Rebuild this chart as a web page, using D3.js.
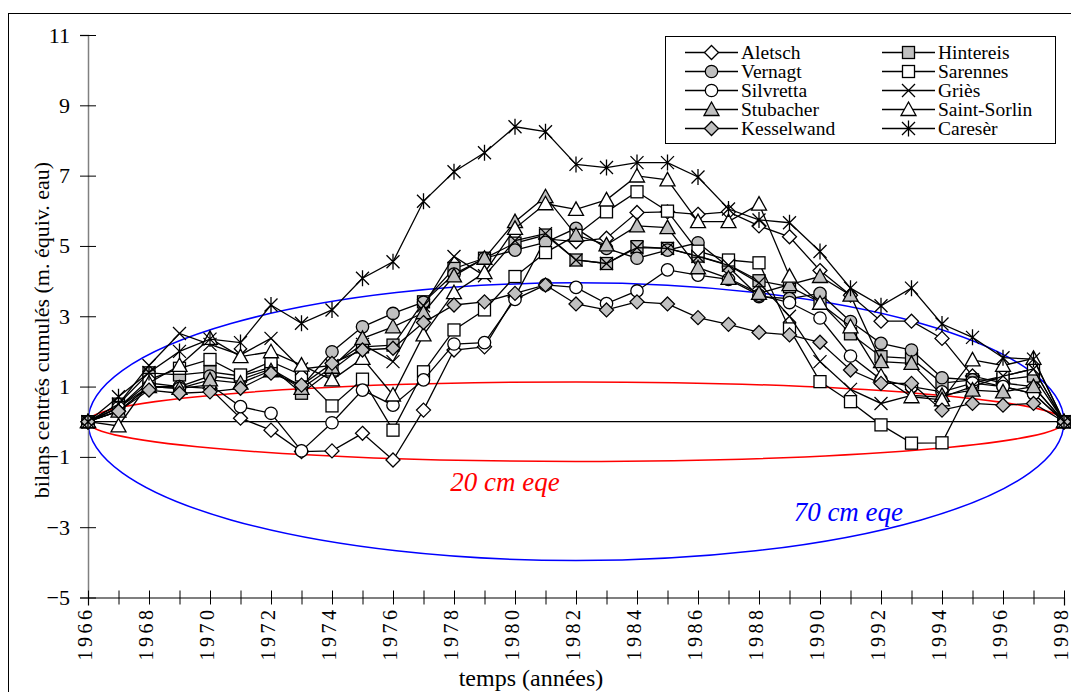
<!DOCTYPE html>
<html><head><meta charset="utf-8">
<script src="https://cdn.jsdelivr.net/npm/d3@7/dist/d3.min.js"></script>
<style>
html,body{margin:0;padding:0;background:#fff;}
svg{display:block;}
text{font-family:"Liberation Serif","Times New Roman",serif;}
</style></head>
<body>
<svg id="chart" width="1071" height="692"></svg>
<script>
const years = [1966,1967,1968,1969,1970,1971,1972,1973,1974,1975,1976,1977,1978,1979,1980,1981,1982,1983,1984,1985,1986,1987,1988,1989,1990,1991,1992,1993,1994,1995,1996,1997,1998];
const yTicks = [-5,-3,-1,1,3,5,7,9,11];
const xLabelYears = [1966,1968,1970,1972,1974,1976,1978,1980,1982,1984,1986,1988,1990,1992,1994,1996,1998];

const aletsch    = [0,0.3,1.0,1.0,0.95,0.1,-0.24,-0.85,-0.83,-0.33,-1.09,0.33,2.04,2.13,3.55,5.2,5.12,5.22,5.95,5.97,5.9,5.97,5.57,5.26,4.3,3.6,2.86,2.86,2.37,1.3,1.1,1.0,0];
const hintereis  = [0,0.5,1.39,1.33,1.42,1.3,1.55,0.81,1.47,2.13,2.18,3.41,4.36,4.65,5.08,5.31,4.6,4.5,4.98,4.93,4.71,4.46,4.01,3.84,3.4,2.5,1.85,1.8,1.1,1.19,1.2,1.3,0];
const vernagt    = [0,0.4,1.1,1.0,1.3,1.2,1.5,1.0,1.99,2.7,3.08,3.4,4.2,4.65,4.88,5.1,5.5,4.93,4.65,4.88,5.09,4.4,3.56,3.5,3.65,2.85,2.23,2.04,1.25,1.19,1.0,0.8,0];
const sarennes   = [0,0.4,1.2,1.52,1.77,1.33,1.71,1.33,0.45,1.21,-0.24,1.42,2.61,3.18,4.13,4.81,5.3,5.97,6.54,5.99,4.85,4.6,4.52,2.64,1.14,0.57,-0.09,-0.61,-0.6,1.1,1.3,1.5,0];
const silvretta  = [0,0.4,1.0,0.95,1.05,0.43,0.24,-0.83,-0.03,0.9,0.47,1.19,2.21,2.25,3.48,3.89,3.82,3.36,3.72,4.32,4.17,4.05,3.6,3.39,2.95,1.87,1.2,1.0,0.85,1.1,1.0,0.8,0];
const gries      = [0,0.5,1.6,2.51,2.2,1.9,2.37,1.5,1.6,2.2,1.71,3.3,4.7,4.15,5.15,5.35,4.6,4.5,4.95,4.93,4.7,4.45,3.95,3.0,1.71,0.92,0.52,0.75,0.7,1.0,1.3,1.5,0];
const stubacher  = [0,0.3,1.0,0.95,1.19,1.1,1.45,0.95,1.55,2.37,2.7,3.1,4.15,4.65,5.69,6.4,5.31,5.03,5.57,5.52,4.38,4.08,3.65,3.9,4.13,3.6,1.71,1.66,0.75,0.9,0.85,1.0,0];
const saintSorlin= [0,-0.12,1.1,1.6,2.37,1.85,1.99,1.61,1.19,1.8,0.76,2.47,3.67,4.24,5.5,6.2,6.04,6.31,6.99,6.88,5.69,5.69,6.19,4.14,3.37,2.7,1.3,0.71,0.62,1.76,1.6,1.8,0];
const kesselwand = [0,0.3,0.9,0.81,0.85,0.95,1.38,1.04,1.66,2.04,2.09,2.82,3.32,3.41,3.65,3.89,3.35,3.18,3.41,3.35,2.96,2.77,2.54,2.47,2.26,1.47,1.09,1.09,0.33,0.52,0.47,0.52,0];
const careser    = [0,0.71,1.4,2.0,2.35,2.25,3.32,2.8,3.18,4.08,4.55,6.27,7.11,7.65,8.39,8.25,7.32,7.23,7.37,7.37,6.96,6.05,5.74,5.66,4.84,3.8,3.3,3.8,2.78,2.4,1.82,1.78,0];

const seriesNames = ["Aletsch","Hintereis","Vernagt","Sarennes","Silvretta","Griès","Stubacher","Saint-Sorlin","Kesselwand","Caresèr"];
const seriesValues = [aletsch,hintereis,vernagt,sarennes,silvretta,gries,stubacher,saintSorlin,kesselwand,careser];
const seriesMarkers = ["diamond","square","circle","square","circle","cross","triangle","triangle","diamond","asterisk"];
const seriesFilled = [false,true,true,false,false,false,true,false,true,false];

// envelope half-heights (m w.e.) at centre, labels
const envelopes = [{label:"20 cm eqe", half:1.13, color:"#ff0000", lx:1979.67, ly:-1.97},
                   {label:"70 cm eqe", half:3.95, color:"#0000ff", lx:1990.93, ly:-2.83}];

const svg = d3.select("#chart");
const x = d3.scaleLinear().domain([1966,1998]).range([88,1064]);
const y = d3.scaleLinear().domain([-5,11]).range([597.5,35]);
const GREY = "#c0c0c0";

// outer frame
svg.append("rect").attr("x",8.5).attr("y",13.5).attr("width",1070).attr("height",690)
  .attr("fill","none").attr("stroke","#000").attr("stroke-width",1);

// envelopes
envelopes.forEach(e=>{
  svg.append("ellipse")
    .attr("cx",x(1982)).attr("cy",y(0))
    .attr("rx",x(1998)-x(1982)).attr("ry",y(0)-y(e.half))
    .attr("fill","none").attr("stroke",e.color).attr("stroke-width",1.5);
});

// zero line
svg.append("line").attr("x1",x(1966)).attr("x2",x(1998)).attr("y1",y(0)).attr("y2",y(0))
  .attr("stroke","#000").attr("stroke-width",1.2);

// Y axis
const gy = svg.append("g").attr("transform",`translate(${x(1966)},0)`)
  .call(d3.axisLeft(y).tickValues(yTicks).tickSize(8).tickPadding(10).tickFormat(d3.format("d")));
gy.select(".domain").attr("stroke","#808080").attr("stroke-width",1.5);
gy.selectAll(".tick line").attr("x1",8).attr("x2",-8).attr("stroke","#000");
gy.selectAll(".tick text").attr("font-size",22).attr("fill","#000").attr("font-family","Liberation Serif");

// X axis
const gx = svg.append("g").attr("transform",`translate(0,${y(-5)})`)
  .call(d3.axisBottom(x).tickValues(years).tickSize(8).tickFormat(""));
gx.select(".domain").attr("stroke","#000").attr("stroke-width",1.2);
gx.selectAll(".tick line").attr("y1",-7).attr("y2",7).attr("stroke","#000");
svg.append("g").selectAll("text").data(xLabelYears).join("text")
  .attr("transform",d=>`translate(${x(d)+4},${y(-5)+9}) rotate(-90)`)
  .attr("text-anchor","end").attr("font-size",20).attr("letter-spacing",3.5).text(d=>d);

// axis titles
svg.append("text").attr("transform",`translate(49,${330}) rotate(-90)`)
  .attr("text-anchor","middle").attr("font-size",22).text("bilans centrés cumulés (m. équiv. eau)");
svg.append("text").attr("x",531).attr("y",686).attr("text-anchor","middle")
  .attr("font-size",24).text("temps (années)");

// envelope labels
envelopes.forEach(e=>{
  svg.append("text").attr("x",x(e.lx)).attr("y",y(e.ly)).attr("text-anchor","middle")
    .attr("font-family","Liberation Sans").attr("font-style","italic").attr("font-size",27)
    .attr("fill",e.color).text(e.label);
});

function marker(g, type, filled, cx, cy){
  const fill = filled ? GREY : "#fff";
  const sw = 1.3;
  if(type==="diamond"){
    const s=7;
    g.append("path").attr("d",`M${cx},${cy-s}L${cx+s},${cy}L${cx},${cy+s}L${cx-s},${cy}Z`)
      .attr("fill",fill).attr("stroke","#000").attr("stroke-width",sw);
  } else if(type==="square"){
    const s=6;
    g.append("rect").attr("x",cx-s).attr("y",cy-s).attr("width",2*s).attr("height",2*s)
      .attr("fill",fill).attr("stroke","#000").attr("stroke-width",sw);
  } else if(type==="circle"){
    g.append("circle").attr("cx",cx).attr("cy",cy).attr("r",6.2)
      .attr("fill",fill).attr("stroke","#000").attr("stroke-width",sw);
  } else if(type==="triangle"){
    const s=7.5;
    g.append("path").attr("d",`M${cx},${cy-s}L${cx+s},${cy+s*0.8}L${cx-s},${cy+s*0.8}Z`)
      .attr("fill",fill).attr("stroke","#000").attr("stroke-width",sw);
  } else if(type==="cross"){
    const s=6.5;
    g.append("path").attr("d",`M${cx-s},${cy-s}L${cx+s},${cy+s}M${cx-s},${cy+s}L${cx+s},${cy-s}`)
      .attr("fill","none").attr("stroke","#000").attr("stroke-width",sw);
  } else if(type==="asterisk"){
    const s=6.5;
    g.append("path").attr("d",`M${cx-s},${cy-s}L${cx+s},${cy+s}M${cx-s},${cy+s}L${cx+s},${cy-s}M${cx},${cy-s-1.5}L${cx},${cy+s+1.5}`)
      .attr("fill","none").attr("stroke","#000").attr("stroke-width",sw);
  }
}

const line = d3.line().x((d,i)=>x(years[i])).y(d=>y(d));
const plot = svg.append("g");
seriesValues.forEach((vals,si)=>{
  const g = plot.append("g");
  g.append("path").attr("d",line(vals)).attr("fill","none").attr("stroke","#000").attr("stroke-width",1.3);
  vals.forEach((v,i)=>marker(g, seriesMarkers[si], seriesFilled[si], x(years[i]), y(v)));
});

// legend
const leg = svg.append("g");
leg.append("rect").attr("x",665.5).attr("y",36.5).attr("width",390).attr("height",107)
  .attr("fill","#fff").attr("stroke","#000").attr("stroke-width",1);
const legOrder = [[0,2,4,6,8],[1,3,5,7,9]];
const colX = [685, 882];
legOrder.forEach((col,ci)=>{
  col.forEach((si,ri)=>{
    const yy = 52.5 + ri*19;
    const x0 = colX[ci];
    leg.append("line").attr("x1",x0).attr("x2",x0+53).attr("y1",yy).attr("y2",yy)
      .attr("stroke","#000").attr("stroke-width",1.3);
    marker(leg, seriesMarkers[si], seriesFilled[si], x0+26.5, yy);
    leg.append("text").attr("x",x0+56).attr("y",yy+6.5).attr("font-size",19.5).text(seriesNames[si]);
  });
});
</script>
</body></html>
